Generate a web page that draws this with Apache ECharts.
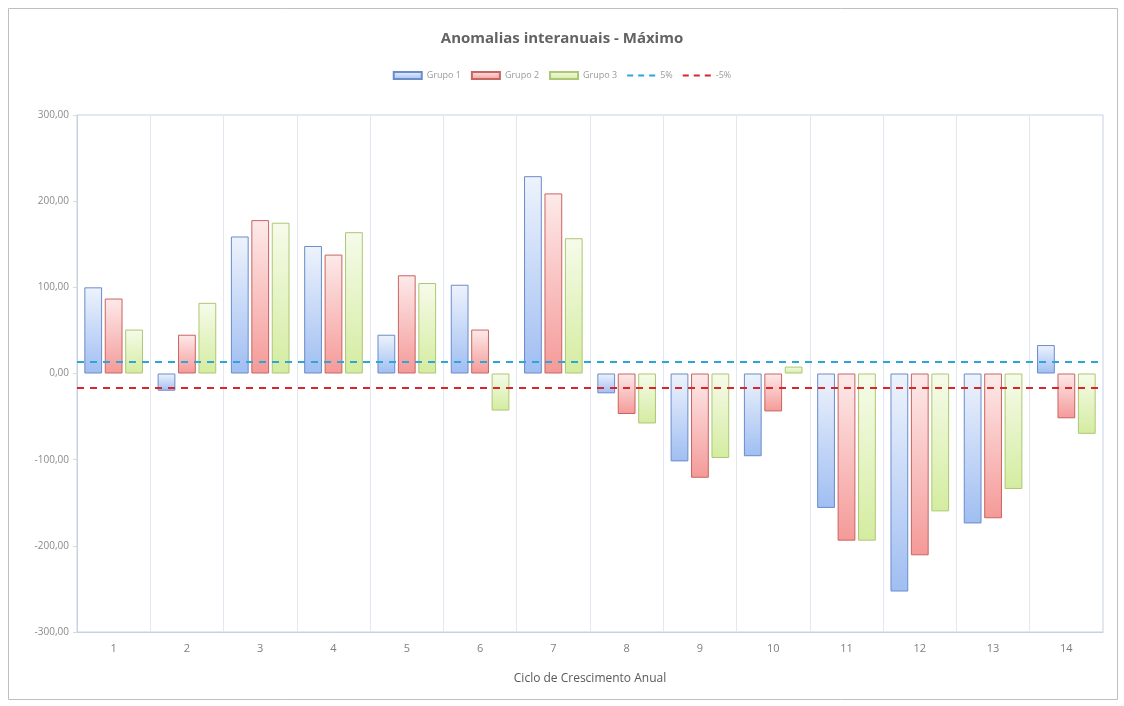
<!DOCTYPE html>
<html>
<head>
<meta charset="utf-8">
<script src="https://cdn.jsdelivr.net/npm/echarts@6/dist/echarts.min.js"></script>
<style>html,body{margin:0;padding:0;background:#fff}#c{width:1124px;height:706px}</style>
</head>
<body>
<div id="c"></div>
<script>
var categories = ['1','2','3','4','5','6','7','8','9','10','11','12','13','14'];
var grupo1 = [100, -20, 159, 148, 45, 103, 229, -23, -102, -96, -156, -253, -174, 33];
var grupo2 = [87, 45, 178, 138, 114, 51, 209, -47, -121, -44, -194, -211, -168, -52];
var grupo3 = [51, 82, 175, 164, 105, -43, 157, -58, -98, 8, -194, -160, -134, -70];
var limitPos = 14;
var limitNeg = -16;
var yTicks = [-300, -200, -100, 0, 100, 200, 300];

function grad(top, bottom) {
  return new echarts.graphic.LinearGradient(0, 0, 0, 1, [
    {offset: 0, color: top}, {offset: 1, color: bottom}
  ]);
}
var dashIcon = 'path://M0,0h0.01v7h-0.01z M0,2.5h6v2h-6z M11,2.5h6v2h-6z M22,2.5h6v2h-6z M27.99,0h0.01v7h-0.01z';
var chart = echarts.init(document.getElementById('c'), null, {renderer: 'canvas'});
var barBase = {type: 'bar', barGap: '15%', barCategoryGap: '20%'};
chart.setOption({
  backgroundColor: '#ffffff',
  animation: false,
  graphic: [{type: 'rect', shape: {x: 8.5, y: 8.5, width: 1109, height: 691}, style: {fill: 'none', stroke: '#bfbfbf', lineWidth: 1}, silent: true}],
  title: {
    text: 'Anomalias interanuais - Máximo', left: 'center', top: 26,
    textStyle: {fontFamily: 'Open Sans', fontSize: 15, fontWeight: 'bold', color: '#636363'}
  },
  legend: {
    top: 66, left: 'center', itemWidth: 28, itemHeight: 7, itemGap: 10,
    textStyle: {fontFamily: 'Open Sans', fontSize: 9, color: '#9a9a9a'},
    data: [
      {name: 'Grupo 1', icon: 'rect'},
      {name: 'Grupo 2', icon: 'rect'},
      {name: 'Grupo 3', icon: 'rect'},
      {name: '5%', icon: dashIcon},
      {name: '-5%', icon: dashIcon}
    ]
  },
  grid: {left: 77, right: 21, top: 115, bottom: 74, show: true, borderColor: '#c6d3e6', borderWidth: 1},
  xAxis: {
    type: 'category', data: categories, boundaryGap: true,
    name: 'Ciclo de Crescimento Anual', nameLocation: 'middle', nameGap: 41,
    nameTextStyle: {fontFamily: 'Open Sans', fontSize: 12, color: '#595959'},
    axisLine: {onZero: false, lineStyle: {color: '#c6d3e6'}},
    axisTick: {show: false},
    axisLabel: {fontFamily: 'Open Sans', fontSize: 11, color: '#7f7f7f', margin: 11},
    splitLine: {show: true, lineStyle: {color: '#e3e8f0', width: 1}}
  },
  yAxis: {
    type: 'value', min: yTicks[0], max: yTicks[yTicks.length - 1], interval: 100,
    axisLine: {show: true, lineStyle: {color: '#c6d3e6'}},
    axisTick: {show: true, length: 4, lineStyle: {color: '#d9d9d9'}},
    splitLine: {show: false},
    axisLabel: {fontFamily: 'Open Sans', fontSize: 10, color: '#8a8a8a', margin: 8,
      formatter: function (v) { return v.toFixed(2).replace('.', ','); }}
  },
  series: [
    Object.assign({}, barBase, {name: 'Grupo 1', data: grupo1,
      itemStyle: {color: grad('#eef3fc', '#a0bef2'), borderColor: '#6a8cc8', borderWidth: 1}}),
    Object.assign({}, barBase, {name: 'Grupo 2', data: grupo2,
      itemStyle: {color: grad('#fdeaea', '#f49a98'), borderColor: '#c86461', borderWidth: 1}}),
    Object.assign({}, barBase, {name: 'Grupo 3', data: grupo3,
      itemStyle: {color: grad('#f6fbea', '#d4eca0'), borderColor: '#adc773', borderWidth: 1}}),
    {type: 'line', name: '5%', data: [], symbol: 'none',
      itemStyle: {color: '#2aa7d6'},
      lineStyle: {color: '#2aa7d6', type: 'dashed', width: 2},
      markLine: {silent: true, symbol: 'none', label: {show: false},
        lineStyle: {color: '#2aa7d6', type: [7, 6], width: 2},
        data: [{yAxis: limitPos}]}},
    {type: 'line', name: '-5%', data: [], symbol: 'none',
      itemStyle: {color: '#d9262b'},
      lineStyle: {color: '#d9262b', type: 'dashed', width: 2},
      markLine: {silent: true, symbol: 'none', label: {show: false},
        lineStyle: {color: '#d9262b', type: [7, 6], width: 2},
        data: [{yAxis: limitNeg}]}}
  ]
});
</script>
</body>
</html>
